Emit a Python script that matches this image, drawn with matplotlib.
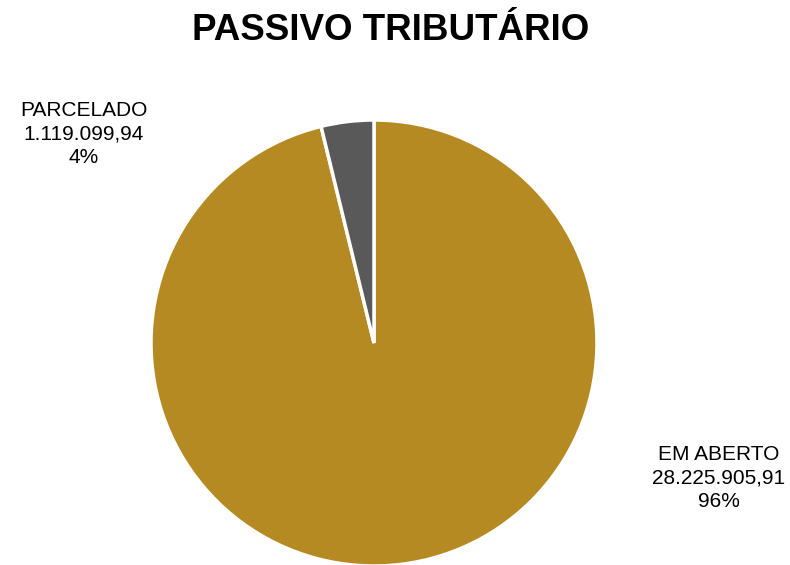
import matplotlib.pyplot as plt

plt.rcParams['font.family'] = ['Liberation Sans', 'DejaVu Sans']

categorias = ['EM ABERTO', 'PARCELADO']
valores = [28225905.91, 1119099.94]
rotulos_valor = ['28.225.905,91', '1.119.099,94']
cores = ['#B58A22', '#595959']

fig = plt.figure(figsize=(7.9, 5.65), dpi=100)
ax = fig.add_axes([0.1911, -0.0018, 0.5646, 0.7894])

ax.pie(valores, colors=cores, startangle=90, counterclock=False, radius=1,
       wedgeprops={'edgecolor': 'white', 'linewidth': 2.5})
ax.set_xlim(-1, 1)
ax.set_ylim(-1, 1)
ax.set_aspect('equal')
ax.axis('off')

total = sum(valores)
pct = [round(v / total * 100) for v in valores]

# posicoes dos rotulos (px da figura)
pos_rotulos = [(719, 478), (84, 134)]
for nome, rv, p, (px, py) in zip(categorias, rotulos_valor, pct, pos_rotulos):
    fig.text(px / 790, 1 - py / 565, f'{nome}\n{rv}\n{p}%', ha='center', va='center',
             multialignment='center', fontsize=15, linespacing=1.28)

fig.text(0.494, 1 - 30 / 565, 'PASSIVO TRIBUTÁRIO', ha='center', va='center',
         fontsize=26.5, fontweight='bold')

fig.savefig('out.png', dpi=100)
